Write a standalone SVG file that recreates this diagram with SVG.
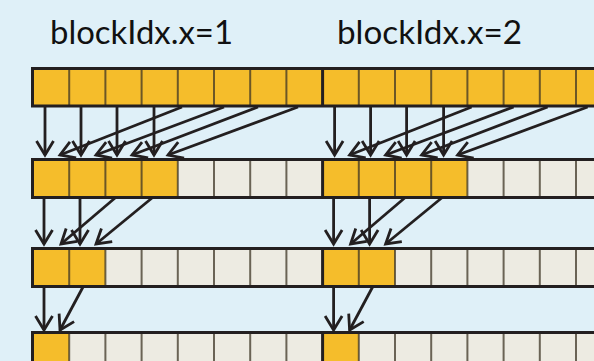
<svg xmlns="http://www.w3.org/2000/svg" width="594" height="361" viewBox="0 0 594 361">
<defs>
<style>
.bg{fill:#DFF0F8}
.y{fill:#F5BD2B}
.g{fill:#EDEBE2}
.div{stroke:#3d3526;stroke-opacity:0.75;stroke-width:2}
.edge{stroke:#231f20;stroke-width:3;fill:none}
.lbl{font-family:"Lato","Open Sans","Liberation Sans",sans-serif;font-size:33px;fill:#111}
.arr{stroke:#231f20;stroke-width:2.8;fill:none;marker-end:url(#ah)}
</style>
<marker id="ah" markerUnits="userSpaceOnUse" markerWidth="34" markerHeight="34" refX="0" refY="0" viewBox="-17 -17 34 34" orient="auto" overflow="visible">
<path d="M-14,-8.5 L0,0 L-14,8.5" fill="none" stroke="#231f20" stroke-width="2.8"/>
</marker>
</defs>
<rect class="bg" x="0" y="0" width="594" height="361"/>

<g id="label1"><text class="lbl" x="50" y="44" textLength="183" lengthAdjust="spacingAndGlyphs">blockIdx.x=1</text></g>
<g id="label2"><text class="lbl" x="337" y="44" textLength="185" lengthAdjust="spacingAndGlyphs">blockIdx.x=2</text></g>

<g id="row1">
<rect class="y" x="33" y="68.5" width="580" height="37.5"/>
<g class="div">
<line x1="69.2" y1="68.5" x2="69.2" y2="106"/><line x1="105.4" y1="68.5" x2="105.4" y2="106"/><line x1="141.6" y1="68.5" x2="141.6" y2="106"/><line x1="177.8" y1="68.5" x2="177.8" y2="106"/><line x1="214" y1="68.5" x2="214" y2="106"/><line x1="250.2" y1="68.5" x2="250.2" y2="106"/><line x1="286.4" y1="68.5" x2="286.4" y2="106"/>
<line x1="358.8" y1="68.5" x2="358.8" y2="106"/><line x1="395" y1="68.5" x2="395" y2="106"/><line x1="431.2" y1="68.5" x2="431.2" y2="106"/><line x1="467.4" y1="68.5" x2="467.4" y2="106"/><line x1="503.6" y1="68.5" x2="503.6" y2="106"/><line x1="539.8" y1="68.5" x2="539.8" y2="106"/><line x1="576" y1="68.5" x2="576" y2="106"/>
</g>
<path class="edge" d="M31,68.5 H594 M31,106 H594 M32.5,67 V107.5 M322.6,67 V107.5"/>
</g>

<g id="row2">
<rect class="g" x="33" y="159.5" width="580" height="38"/>
<rect class="y" x="33" y="159.5" width="144.8" height="38"/>
<rect class="y" x="322.6" y="159.5" width="144.8" height="38"/>
<g class="div">
<line x1="69.2" y1="159.5" x2="69.2" y2="197.5"/><line x1="105.4" y1="159.5" x2="105.4" y2="197.5"/><line x1="141.6" y1="159.5" x2="141.6" y2="197.5"/><line x1="177.8" y1="159.5" x2="177.8" y2="197.5"/><line x1="214" y1="159.5" x2="214" y2="197.5"/><line x1="250.2" y1="159.5" x2="250.2" y2="197.5"/><line x1="286.4" y1="159.5" x2="286.4" y2="197.5"/>
<line x1="358.8" y1="159.5" x2="358.8" y2="197.5"/><line x1="395" y1="159.5" x2="395" y2="197.5"/><line x1="431.2" y1="159.5" x2="431.2" y2="197.5"/><line x1="467.4" y1="159.5" x2="467.4" y2="197.5"/><line x1="503.6" y1="159.5" x2="503.6" y2="197.5"/><line x1="539.8" y1="159.5" x2="539.8" y2="197.5"/><line x1="576" y1="159.5" x2="576" y2="197.5"/>
</g>
<path class="edge" d="M31,159.5 H594 M31,197.5 H594 M32.5,158 V199 M322.6,158 V199"/>
</g>

<g id="row3">
<rect class="g" x="33" y="248.5" width="580" height="38"/>
<rect class="y" x="33" y="248.5" width="72.4" height="38"/>
<rect class="y" x="322.6" y="248.5" width="72.4" height="38"/>
<g class="div">
<line x1="69.2" y1="248.5" x2="69.2" y2="286.5"/><line x1="105.4" y1="248.5" x2="105.4" y2="286.5"/><line x1="141.6" y1="248.5" x2="141.6" y2="286.5"/><line x1="177.8" y1="248.5" x2="177.8" y2="286.5"/><line x1="214" y1="248.5" x2="214" y2="286.5"/><line x1="250.2" y1="248.5" x2="250.2" y2="286.5"/><line x1="286.4" y1="248.5" x2="286.4" y2="286.5"/>
<line x1="358.8" y1="248.5" x2="358.8" y2="286.5"/><line x1="395" y1="248.5" x2="395" y2="286.5"/><line x1="431.2" y1="248.5" x2="431.2" y2="286.5"/><line x1="467.4" y1="248.5" x2="467.4" y2="286.5"/><line x1="503.6" y1="248.5" x2="503.6" y2="286.5"/><line x1="539.8" y1="248.5" x2="539.8" y2="286.5"/><line x1="576" y1="248.5" x2="576" y2="286.5"/>
</g>
<path class="edge" d="M31,248.5 H594 M31,286.5 H594 M32.5,247 V288 M322.6,247 V288"/>
</g>

<g id="row4">
<rect class="g" x="33" y="332.5" width="580" height="38"/>
<rect class="y" x="33" y="332.5" width="36.2" height="38"/>
<rect class="y" x="322.6" y="332.5" width="36.2" height="38"/>
<g class="div">
<line x1="69.2" y1="332.5" x2="69.2" y2="370"/><line x1="105.4" y1="332.5" x2="105.4" y2="370"/><line x1="141.6" y1="332.5" x2="141.6" y2="370"/><line x1="177.8" y1="332.5" x2="177.8" y2="370"/><line x1="214" y1="332.5" x2="214" y2="370"/><line x1="250.2" y1="332.5" x2="250.2" y2="370"/><line x1="286.4" y1="332.5" x2="286.4" y2="370"/>
<line x1="358.8" y1="332.5" x2="358.8" y2="370"/><line x1="395" y1="332.5" x2="395" y2="370"/><line x1="431.2" y1="332.5" x2="431.2" y2="370"/><line x1="467.4" y1="332.5" x2="467.4" y2="370"/><line x1="503.6" y1="332.5" x2="503.6" y2="370"/><line x1="539.8" y1="332.5" x2="539.8" y2="370"/><line x1="576" y1="332.5" x2="576" y2="370"/>
</g>
<path class="edge" d="M31,332.5 H594 M32.5,331 V372 M322.6,331 V372"/>
</g>

<g id="connectors">
<g id="block1-arrows">
<line class="arr" x1="45" y1="107" x2="45" y2="155"/>
<line class="arr" x1="81" y1="107" x2="81" y2="155"/>
<line class="arr" x1="117" y1="107" x2="117" y2="155"/>
<line class="arr" x1="154" y1="107" x2="154" y2="155"/>
<line class="arr" x1="182" y1="107" x2="60" y2="155"/>
<line class="arr" x1="224" y1="107" x2="96" y2="155"/>
<line class="arr" x1="258" y1="107" x2="132" y2="155"/>
<line class="arr" x1="298" y1="107" x2="168" y2="155"/>
<line class="arr" x1="44" y1="198" x2="44" y2="244"/>
<line class="arr" x1="80" y1="198" x2="80" y2="244"/>
<line class="arr" x1="115" y1="198" x2="61" y2="244"/>
<line class="arr" x1="152" y1="198" x2="96" y2="244"/>
<line class="arr" x1="44" y1="287" x2="44" y2="330"/>
<line class="arr" x1="83" y1="287" x2="60" y2="330"/>
</g>
<g id="block2-arrows" transform="translate(289.6,0)">
<line class="arr" x1="45" y1="107" x2="45" y2="155"/>
<line class="arr" x1="81" y1="107" x2="81" y2="155"/>
<line class="arr" x1="117" y1="107" x2="117" y2="155"/>
<line class="arr" x1="154" y1="107" x2="154" y2="155"/>
<line class="arr" x1="182" y1="107" x2="60" y2="155"/>
<line class="arr" x1="224" y1="107" x2="96" y2="155"/>
<line class="arr" x1="258" y1="107" x2="132" y2="155"/>
<line class="arr" x1="298" y1="107" x2="168" y2="155"/>
<line class="arr" x1="44" y1="198" x2="44" y2="244"/>
<line class="arr" x1="80" y1="198" x2="80" y2="244"/>
<line class="arr" x1="115" y1="198" x2="61" y2="244"/>
<line class="arr" x1="152" y1="198" x2="96" y2="244"/>
<line class="arr" x1="44" y1="287" x2="44" y2="330"/>
<line class="arr" x1="83" y1="287" x2="60" y2="330"/>
</g>
</g>
</svg>
